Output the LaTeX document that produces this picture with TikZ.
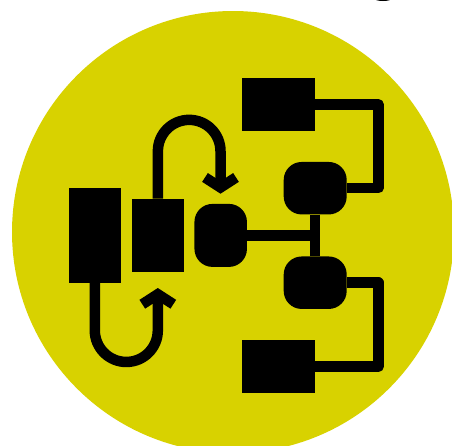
\documentclass[tikz,border=0pt]{standalone}
\usepackage{xcolor}
\usetikzlibrary{arrows.meta}
\definecolor{discyellow}{RGB}{216,210,0}

\begin{document}
\begin{tikzpicture}[x=1pt, y=-1pt, >={Straight Barb[length=10pt,width=31pt]}]
    \tikzset{
        blockbox/.style={fill=black, inner sep=0pt, minimum width=#1},
        blob/.style={fill=black, inner sep=0pt, rounded corners=18pt, minimum height=52.5pt},
        flow/.style={black, line width=10.5pt, line join=round}
    }
    \useasboundingbox (0,0) rectangle (452,445);
    \clip (0,0) rectangle (452,445);
    % Disc
    \fill[discyellow] (233,232) circle (221);
    % Stray mark at the top edge
    \fill[black] (383,-1) ellipse (8 and 2);
    % Blocks
    \node[blockbox=52.5pt, minimum height=94.5pt] (inbox) at (94.8,235.5) {};
    \node[blockbox=52.5pt, minimum height=73.5pt] (midbox) at (157.9,235.6) {};
    \node[blockbox=73.5pt, minimum height=52.5pt] (topbox) at (278.4,104.5) {};
    \node[blockbox=73.5pt, minimum height=52.5pt] (lowbox) at (278.4,366.7) {};
    \node[blob, minimum width=52.5pt, minimum height=63pt] (hub) at (220.7,235.4) {};
    \node[blob, minimum width=63pt] (upblob) at (315.2,188.2) {};
    \node[blob, minimum width=63pt] (downblob) at (315.2,282.7) {};
    % Curved arrows
    \coordinate (uptip) at (220.5,193.7);
    \coordinate (downtip) at (157.8,288);
    \draw[flow, ->] (midbox.north) -- ++(0,-47.5) arc (180:360:31.3) -- (uptip);
    \draw[flow, ->] (inbox.south) -- ++(0,47.5) arc (180:0:31.5) -- (downtip);
    % Straight connectors
    \draw[flow] (topbox.east) -- ++(63,0) |- (upblob.east);
    \draw[flow] (lowbox.east) -- ++(63,0) |- (downblob.east);
    \draw[flow] (upblob.south) -- (downblob.north);
    \draw[flow] (hub.east) -- (hub.east -| upblob.south);
\end{tikzpicture}
\end{document}
